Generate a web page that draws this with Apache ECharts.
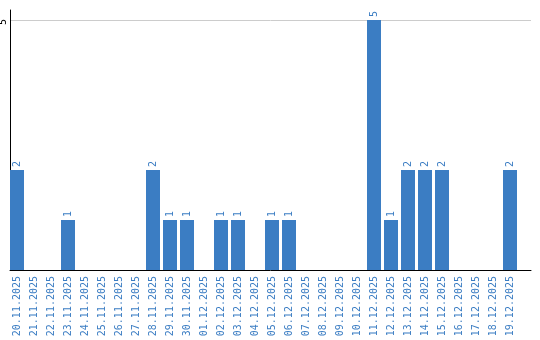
<!DOCTYPE html>
<html><head><meta charset="utf-8">
<script src="https://cdn.jsdelivr.net/npm/echarts@6/dist/echarts.min.js"></script>
<style>html,body{margin:0;padding:0;background:#fff}#c{width:540px;height:340px}</style>
</head><body><div id="c"></div>
<script>
const categories = ["20.11.2025","21.11.2025","22.11.2025","23.11.2025","24.11.2025","25.11.2025","26.11.2025","27.11.2025","28.11.2025","29.11.2025","30.11.2025","01.12.2025","02.12.2025","03.12.2025","04.12.2025","05.12.2025","06.12.2025","07.12.2025","08.12.2025","09.12.2025","10.12.2025","11.12.2025","12.12.2025","13.12.2025","14.12.2025","15.12.2025","16.12.2025","17.12.2025","18.12.2025","19.12.2025"];
const values = [2,0,0,1,0,0,0,0,2,1,1,0,1,1,0,1,1,0,0,0,0,5,1,2,2,2,0,0,0,2];
const yTicks = [0,5];

const blue = '#3b7dc3';
const font = 'DejaVu Sans Mono';
const chart = echarts.init(document.getElementById('c'), null, {renderer:'canvas'});
chart.setOption({
  animation:false,
  grid:[
    {left:8.5, top:20, width:510, height:250, containLabel:false, outerBoundsMode:'none'},
    {left:10, top:10, width:521, height:260, containLabel:false, outerBoundsMode:'none'}
  ],
  xAxis:[
    {type:'category', gridIndex:0, data:categories, boundaryGap:true,
     axisLine:{show:false}, axisTick:{show:false},
     axisLabel:{rotate:90, interval:0, margin:6, color:blue, fontFamily:font, fontSize:10}},
    {type:'value', gridIndex:1, min:0, max:1, axisLine:{show:true, lineStyle:{color:'#000', width:1}},
     axisTick:{show:false}, axisLabel:{show:false}, splitLine:{show:false}}
  ],
  yAxis:[
    {type:'value', gridIndex:0, min:0, max:5, interval:5, show:false, splitLine:{show:false}},
    {type:'value', gridIndex:1, min:yTicks[0], max:5.2, interval:yTicks[1],
     axisLine:{show:true, lineStyle:{color:'#000', width:1}}, axisTick:{show:false},
     axisLabel:{rotate:90, margin:2, align:'center', verticalAlign:'bottom', padding:[0,4,0,0], color:'#000', fontFamily:font, fontSize:10, showMaxLabel:false,
       formatter:v => (v===5 ? '5' : '')},
     splitLine:{show:true, showMinLine:false, showMaxLine:false, lineStyle:{color:'#cccccc', width:1}}}
  ],
  series:[{
    type:'bar', xAxisIndex:0, yAxisIndex:0, data:values, barWidth:14,
    itemStyle:{color:blue},
    label:{show:true, position:'top', rotate:90, align:'left', verticalAlign:'middle', distance:3,
      color:blue, fontFamily:font, fontSize:10,
      formatter:p => (p.value ? String(p.value) : '')}
  }]
});
</script></body></html>
